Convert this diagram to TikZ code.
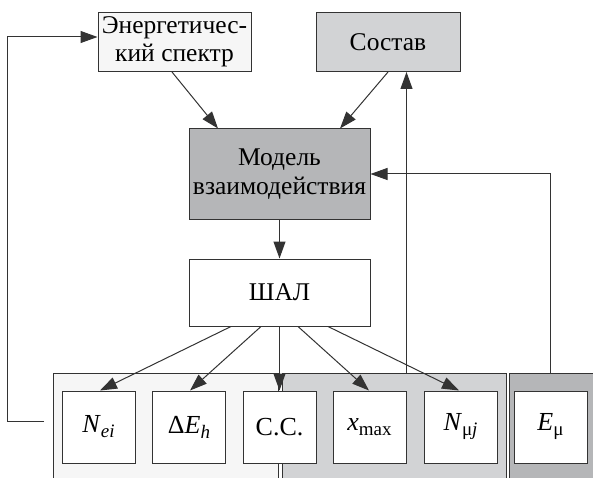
\documentclass[tikz,border=0pt]{standalone}
\usepackage{fontspec}
\setmainfont{Liberation Serif}
\usetikzlibrary{arrows.meta}
\definecolor{ln}{HTML}{333333}
\definecolor{fA}{HTML}{F6F6F6}
\definecolor{fB}{HTML}{D2D3D5}
\definecolor{fC}{HTML}{B5B6B8}
\newcommand\lowtxt[1]{\raisebox{-5pt}{\fontsize{19}{19}\selectfont #1}}
\tikzset{
  box/.style={draw=ln, line width=1pt, rectangle, inner sep=0pt, align=center,
              font=\fontsize{25.5}{28.5}\selectfont},
  smallbox/.style={box, fill=white, minimum width=73pt, minimum height=72pt,
              font=\fontsize{26}{28}\selectfont},
  panel/.style={draw=ln, line width=1pt},
  conn/.style={draw=ln, line width=1pt},
  arr/.style={conn, -{Triangle[length=17pt,width=12pt]}}
}
\begin{document}
\begin{tikzpicture}[x=1pt,y=-1pt]
\useasboundingbox (0,0) rectangle (593,478);
\clip (0,0) rectangle (593,478);
% panels
\draw[panel, fill=fA] (53,373) rectangle (278,495);
\draw[panel, fill=fB] (282,373) rectangle (506,495);
\draw[panel, fill=fC] (509,373) rectangle (600,495);
\coordinate (ptop) at (0,373);
% top boxes
\node[box, fill=fA, minimum width=153pt, minimum height=59pt] (en) at (174.5,42) {Энергетичес-\\кий спектр};
\node[box, fill=fB, minimum width=144pt, minimum height=59pt] (so) at (388,42) {Состав};
\node[box, fill=fC, minimum width=181pt, minimum height=90pt] (mod) at (279.5,174) {Модель\\взаимодействия};
\node[box, fill=white, minimum width=181pt, minimum height=67pt] (shal) at (279.5,292.5) {ШАЛ};
% bottom boxes
\node[smallbox] (b1) at (98.5,427) {\textit{N}\lowtxt{\textit{ei}}};
\node[smallbox] (b2) at (189,427) {Δ\textit{E}\lowtxt{\textit{h}}};
\node[smallbox] (b3) at (279.5,427) {С.С.};
\node[smallbox] (b4) at (369.5,427) {\textit{x}\lowtxt{max}};
\node[smallbox] (b5) at (460.5,427) {\textit{N}\lowtxt{μ\textit{j}}};
\node[smallbox] (b6) at (550.5,427) {\textit{E}\lowtxt{μ}};
% connectors
\draw[arr] ([xshift=-2.5pt]en.south) -- ([xshift=-61.5pt]mod.north);
\draw[arr] (so.south) -- ([xshift=60.5pt]mod.north);
\draw[arr] (mod.south) -- (shal.north);
\draw[arr] ([xshift=-48.5pt]shal.south) -- ([xshift=1.5pt]b1.north);
\draw[arr] ([xshift=-18.5pt]shal.south) -- ([xshift=1pt]b2.north);
\draw[arr] (shal.south) -- (b3.north);
\draw[arr] ([xshift=18.5pt]shal.south) -- ([xshift=-0.5pt]b4.north);
\draw[arr] ([xshift=48.5pt]shal.south) -- ([xshift=-1.5pt]b5.north);
% feedback lines
\coordinate (fbA) at (44,421);
\coordinate (fbB) at (7,421);
\coordinate (fbC) at (7,37);
\draw[arr] (fbA) -- (fbB) -- (fbC) -- (fbC -| en.west);
\draw[arr] (b4.east |- ptop) -- (b4.east |- so.south);
\draw[arr] (b6.north |- ptop) -- (b6.north |- mod.east) -- (mod.east);
\end{tikzpicture}
\end{document}
